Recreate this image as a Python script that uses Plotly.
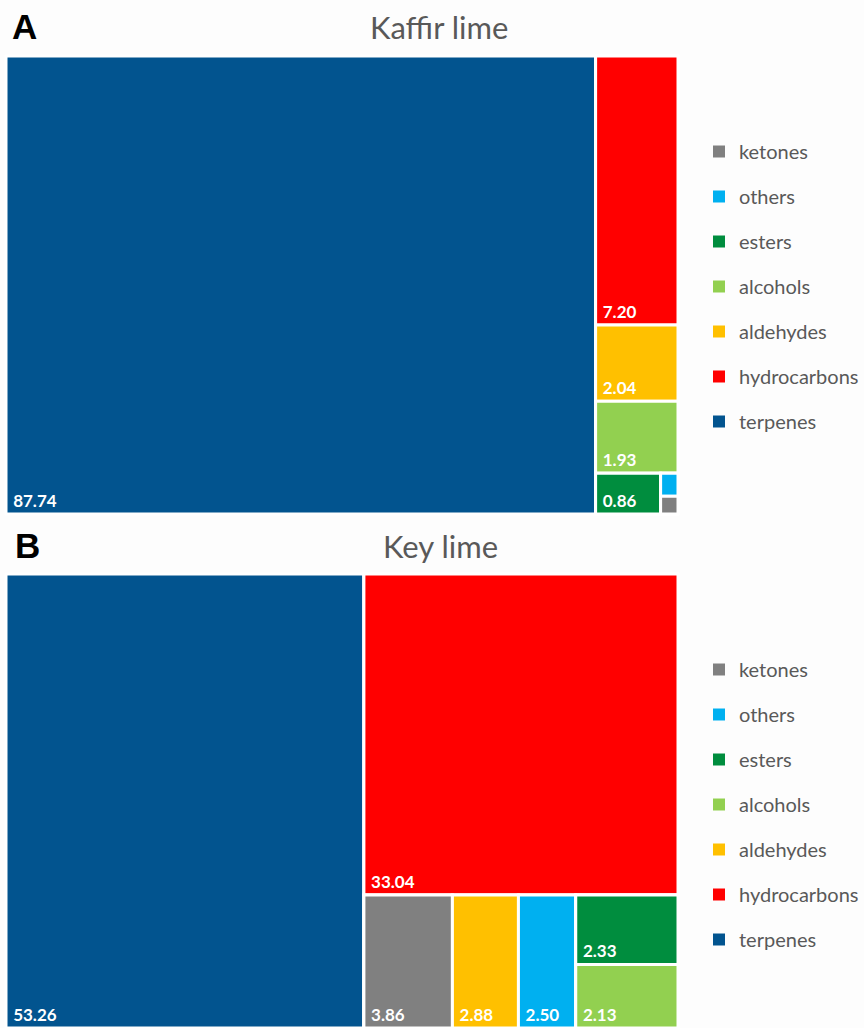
import plotly.graph_objects as go

# ---- data ----
categories = ["terpenes", "hydrocarbons", "aldehydes", "alcohols", "esters", "others", "ketones"]
kaffir_values = [87.74, 7.20, 2.04, 1.93, 0.86, 0.13, 0.10]
key_values = [53.26, 33.04, 2.88, 2.13, 2.33, 2.50, 3.86]
legend_order = ["ketones", "others", "esters", "alcohols", "aldehydes", "hydrocarbons", "terpenes"]

# tiling groups (structure only) : node -> parent, listed in drawing order
kaffir_tree = [("terpenes", ""), ("rest", ""), ("hydrocarbons", "rest"), ("aldehydes", "rest"),
               ("alcohols", "rest"), ("bottom", "rest"), ("esters", "bottom"), ("small", "bottom"),
               ("others", "small"), ("ketones", "small")]
key_tree = [("terpenes", ""), ("rest", ""), ("hydrocarbons", "rest"), ("bottom", "rest"),
            ("ketones", "bottom"), ("aldehydes", "bottom"), ("others", "bottom"), ("pair", "bottom"),
            ("esters", "pair"), ("alcohols", "pair")]

colors = {
    "terpenes": "#02548F",
    "hydrocarbons": "#FF0000",
    "aldehydes": "#FFC000",
    "alcohols": "#92D050",
    "esters": "#008D3E",
    "others": "#00B0F0",
    "ketones": "#808080",
}

W, H = 864, 1028
fig = go.Figure()


def add_tree(name, tree, vals, y0, y1):
    vmap = dict(zip(categories, vals))
    ids, labels, parents, values, cols, texts = [], [], [], [], [], []
    for node, par in tree:
        ids.append(f"{name}-{node}")
        parents.append(f"{name}-{par}" if par else "")
        if node in vmap:
            labels.append(node)
            values.append(vmap[node])
            cols.append(colors[node])
            texts.append("&nbsp;%{value:.2f}")
        else:
            labels.append(" ")
            values.append(0)
            cols.append("#FFFFFF")
            texts.append("")
    fig.add_trace(go.Treemap(
        ids=ids, labels=labels, parents=parents, values=values,
        branchvalues="remainder", sort=False,
        marker=dict(colors=cols, line=dict(color="white", width=3),
                    pad=dict(t=0, l=0, r=0, b=0)),
        tiling=dict(packing="slice-dice", pad=0),
        texttemplate=texts,
        textposition="bottom left",
        textfont=dict(family="Lato", size=17, color="white", weight="bold"),
        hovertemplate="%{label}: %{value:.2f}<extra></extra>",
        pathbar=dict(visible=False),
        domain=dict(x=[6 / W, 678 / W], y=[max(0, 1 - y1 / H), min(1, 1 - y0 / H)]),
    ))


add_tree("kaffir", kaffir_tree, kaffir_values, 56, 514)
add_tree("key", key_tree, key_values, 574, 1028)

for leg in ["legend", "legend2"]:
    for c in legend_order:
        fig.add_trace(go.Scatter(
            x=[None], y=[None], mode="markers", name=c,
            marker=dict(symbol="square", size=13, color=colors[c]),
            legend=leg, legendgroup=f"{leg}_{c}", showlegend=True,
            hoverinfo="skip",
        ))

legend_style = dict(
    x=699 / W, xanchor="left", yanchor="top",
    font=dict(family="Lato", size=20, color="#595959"),
    tracegroupgap=16, bgcolor="rgba(0,0,0,0)", itemsizing="constant",
    traceorder="grouped",
)
title_font = dict(family="Lato", size=31, color="#595959")
panel_font = dict(family="Liberation Sans", size=35, color="black")
fig.update_layout(
    width=W, height=H,
    margin=dict(l=0, r=0, t=0, b=0),
    paper_bgcolor="#FDFDFD", plot_bgcolor="rgba(0,0,0,0)",
    xaxis=dict(visible=False, domain=[0.99, 1.0]),
    yaxis=dict(visible=False, domain=[0.99, 1.0]),
    legend=dict(y=1 - 132 / H, **legend_style),
    legend2=dict(y=1 - 650 / H, **legend_style),
    uniformtext=dict(minsize=12, mode="hide"),
    annotations=[
        dict(text="Kaffir lime", x=439 / W, y=1 - 27 / H, xref="paper", yref="paper",
             xanchor="center", yanchor="middle", showarrow=False, font=title_font),
        dict(text="Key lime", x=441 / W, y=1 - 546 / H, xref="paper", yref="paper",
             xanchor="center", yanchor="middle", showarrow=False, font=title_font),
        dict(text="<b>A</b>", x=10 / W, y=1 - 26 / H, xref="paper", yref="paper",
             xanchor="left", yanchor="middle", showarrow=False, font=panel_font),
        dict(text="<b>B</b>", x=13 / W, y=1 - 545 / H, xref="paper", yref="paper",
             xanchor="left", yanchor="middle", showarrow=False, font=panel_font),
    ],
)

fig.write_html("out.html", config={"displayModeBar": False},
               post_script="document.body.style.margin='0px';")
